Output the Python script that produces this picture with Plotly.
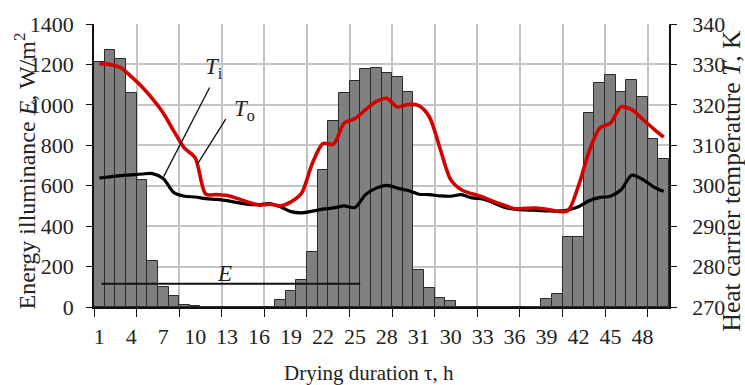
import plotly.graph_objects as go

# Hourly slots along the drying run (54 bars)
slots = list(range(1, 55))

# Tick labels shown under every third slot
tick_slots = [1, 4, 7, 10, 13, 16, 19, 22, 25, 28, 31, 34, 37, 40, 43, 46, 49, 52]
tick_labels = ["1", "4", "7", "10", "13", "16", "19", "22", "25", "28", "31",
               "30", "33", "36", "39", "42", "45", "48"]

# Energy illuminance E, W/m2
illuminance = [1210, 1270, 1225, 1060, 630, 230, 97, 52, 12, 5,
               0, 0, 0, 0, 0, 0, 0,
               33, 80, 133, 274, 678, 918, 1058, 1119, 1176, 1184, 1156, 1140,
               1065, 183, 92, 46, 29,
               0, 0, 0, 0, 0, 0, 0, 0,
               38, 65, 346, 346, 960, 1107, 1148, 1065, 1122, 1037, 833, 732]

# Heat carrier temperature at inlet T_i, K
t_inlet = [301.9, 302.2, 302.5, 302.7, 302.9, 303.0, 301.8, 298.3, 297.4, 297.2,
           296.8, 296.6, 296.3, 295.8, 295.4, 295.3, 295.6, 294.8, 293.6, 293.3,
           293.7, 294.2, 294.5, 295.0, 294.6, 297.8, 299.4, 300.1, 299.4, 298.8,
           297.9, 297.8, 297.5, 297.4, 297.8, 297.0, 296.7, 295.8, 294.7, 294.2,
           294.0, 293.9, 293.8, 293.7, 294.0, 294.8, 296.3, 297.1, 297.4, 299.0,
           302.6, 301.6, 299.8, 298.6]

# Heat carrier temperature at outlet T_o, K
t_outlet = [330.2, 330.0, 329.2, 327.0, 324.5, 321.5, 318.0, 313.5, 309.3, 306.9,
            297.9, 297.8, 297.6, 296.8, 295.9, 295.2, 295.4, 295.0, 296.0, 298.2,
            305.5, 310.4, 310.3, 315.5, 316.6, 318.8, 320.8, 321.6, 319.5, 320.1,
            319.8, 317.0, 309.2, 301.5, 299.0, 298.0, 297.2, 296.1, 295.2, 294.3,
            294.4, 294.5, 294.2, 293.7, 293.8, 300.0, 308.5, 314.3, 315.5, 319.5,
            318.8, 316.5, 314.2, 312.0]

SERIF = "Liberation Serif, Times New Roman, serif"
GRID = "#c4c4c4"
INK = "#222222"

fig = go.Figure()

fig.add_trace(go.Bar(
    x=slots, y=illuminance, name="E",
    marker=dict(color="#808080", line=dict(color="#2a2a2a", width=1)),
    showlegend=False,
))

fig.add_trace(go.Scatter(
    x=slots, y=t_inlet, yaxis="y2", mode="lines", name="Ti",
    line=dict(color="#000000", width=3.2, shape="spline", smoothing=0.8),
    showlegend=False,
))

fig.add_trace(go.Scatter(
    x=slots, y=t_outlet, yaxis="y2", mode="lines", name="To",
    line=dict(color="#d40000", width=3.6, shape="spline", smoothing=0.8),
    showlegend=False,
))

# Leader lines for the curve / bar labels
leader = dict(color="#111111", width=1.3)
shapes = [
    dict(type="line", xref="x", yref="y", x0=11.36, y0=1086, x1=7.04, y1=645, line=leader, layer="above"),
    dict(type="line", xref="x", yref="y", x0=12.87, y0=929, x1=10.17, y1=703, line=leader, layer="above"),
    dict(type="line", xref="x", yref="y", x0=1.2, y0=115, x1=25.5, y1=115,
         line=dict(color="#111111", width=2), layer="above"),
]

label_font = dict(family=SERIF, size=23, color=INK)
annotations = [
    dict(x=11.8, y=1184, xref="x", yref="y", text="<i>T</i><sub>i</sub>",
         showarrow=False, font=label_font),
    dict(x=14.65, y=974, xref="x", yref="y", text="<i>T</i><sub>o</sub>",
         showarrow=False, font=label_font),
    dict(x=12.77, y=168, xref="x", yref="y", text="<i>E</i>",
         showarrow=False, font=label_font),
    # axis titles
    dict(x=0, y=0.5, xref="paper", yref="paper", xanchor="center", yanchor="middle",
         xshift=-70, yshift=-6,
         text="Energy illuminance <i>E</i>, W/m<sup>2</sup>", textangle=-90,
         showarrow=False, font=dict(family=SERIF, size=24, color=INK)),
    dict(x=1, y=0.5, xref="paper", yref="paper", xanchor="center", yanchor="middle",
         xshift=62, yshift=-16,
         text="Heat carrier temperature <i>T</i>, K", textangle=-90,
         showarrow=False, font=dict(family=SERIF, size=25.5, color=INK)),
    dict(x=0.5, y=0, xref="paper", yref="paper", xanchor="center", yanchor="middle",
         xshift=-13, yshift=-66,
         text="Drying duration τ, h",
         showarrow=False, font=dict(family=SERIF, size=21, color=INK)),
]

tick_font = dict(family=SERIF, size=22, color=INK)

fig.update_layout(
    width=745, height=385,
    margin=dict(l=94, r=76, t=21, b=78),
    paper_bgcolor="white", plot_bgcolor="white",
    bargap=0,
    shapes=shapes,
    annotations=annotations,
    xaxis=dict(
        range=[0.5, 54.5],
        tickmode="array", tickvals=tick_slots, ticktext=tick_labels,
        ticks="", showgrid=False, zeroline=False,
        showline=True, linecolor="#111111", linewidth=1.6,
        tickfont=tick_font, ticklabelstandoff=9,
        minor=dict(tickmode="linear", tick0=0.5, dtick=4,
                   ticks="outside", ticklen=8, tickwidth=1.4, tickcolor="#111111",
                   showgrid=True, gridcolor=GRID, gridwidth=1.5),
    ),
    yaxis=dict(
        range=[0, 1400], tickmode="linear", tick0=0, dtick=200,
        showgrid=True, gridcolor=GRID, gridwidth=1.5, zeroline=False,
        showline=True, linecolor="#111111", linewidth=1.6,
        ticks="outside", ticklen=6, tickwidth=1.4, tickcolor="#111111",
        tickfont=tick_font, ticklabelstandoff=8,
    ),
    yaxis2=dict(
        range=[270, 340], tickmode="linear", tick0=270, dtick=10,
        overlaying="y", side="right",
        showgrid=False, zeroline=False,
        showline=True, linecolor="#111111", linewidth=1.6,
        ticks="outside", ticklen=6, tickwidth=1.4, tickcolor="#111111",
        tickfont=tick_font, ticklabelstandoff=11,
    ),
)

fig.write_html("out.html")
